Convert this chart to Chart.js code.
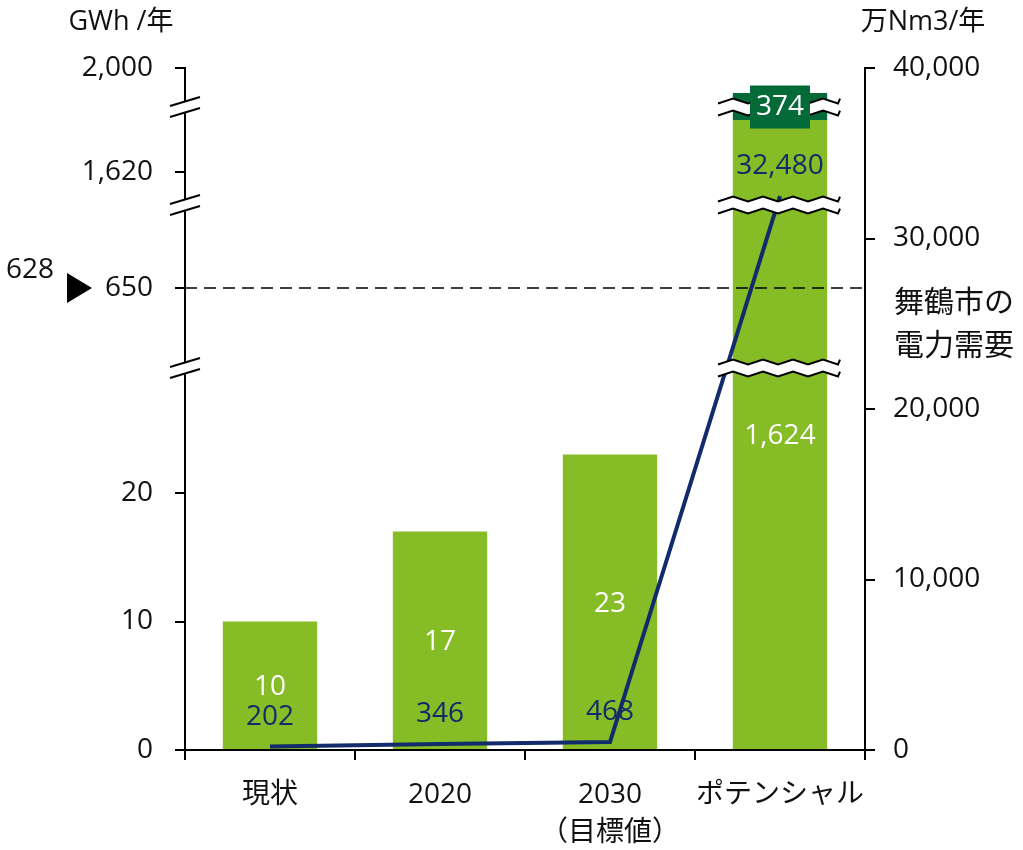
<!DOCTYPE html>
<html>
<head>
<meta charset="utf-8">
<title>発電量・ガス量ポテンシャル</title>
<script src="https://cdn.jsdelivr.net/npm/chart.js"></script>
<style>
    body { margin: 0; background: #fff; }
</style>
</head>
<body>
<canvas id="potentialChart" width="1023" height="850"></canvas>

<script>
    const categories = ['現状', '2020', ['2030', '（目標値）'], 'ポテンシャル'];
    const powerGWh = [10, 17, 23, 1624];
    const powerExtraGWh = [null, null, null, 374];
    const gasNm3 = [202, 346, 468, 32480];
    const leftTicks = [0, 10, 20, 650, 1620, 2000];
    const demandGWh = 628;
    const demandTick = 650;

    // left axis is broken into pieces, each value range gets its own share of the height
    const axisPieces = [
        { from: 0, to: 29.73, share: 0.5601 },
        { from: 570, to: 733, share: 0.7991 },
        { from: 1617.46, to: 1625, share: 0.9428 },
        { from: 1996.88, to: 2000, share: 1 }
    ];

    const navy = '#112b6b';
    const lightGreen = '#86bc25';
    const darkGreen = '#046a38';
    const fontFamily = "'Open Sans', 'Noto Sans CJK JP', sans-serif";

    const LinearScale = Chart.LinearScale || Chart.registry.getScale('linear');

    class BrokenScale extends LinearScale {
        buildTicks() {
            this.start = this.min;
            this.end = this.max;
            return leftTicks.map(value => ({ value }));
        }
        shareOf(value) {
            let lo = 0;
            for (const p of axisPieces) {
                if (value <= p.to) {
                    if (value < p.from) return lo;
                    return lo + (value - p.from) / (p.to - p.from) * (p.share - lo);
                }
                lo = p.share;
            }
            return 1;
        }
        getPixelForValue(value) {
            return this.bottom - this.shareOf(value) * (this.bottom - this.top);
        }
        getValueForPixel(pixel) {
            const s = (this.bottom - pixel) / (this.bottom - this.top);
            let lo = 0;
            for (const p of axisPieces) {
                if (s <= p.share) return p.from + (s - lo) / (p.share - lo) * (p.to - p.from);
                lo = p.share;
            }
            return this.max;
        }
    }
    BrokenScale.id = 'broken';
    BrokenScale.defaults = {};
    Chart.register(BrokenScale);

    Chart.defaults.font.family = fontFamily;
    Chart.defaults.font.size = 28;
    Chart.defaults.color = '#111';

    const fmt = v => Number(v).toLocaleString('en-US');

    function zigzag(x0, x1, y, amp, step) {
        const pts = [];
        let up = true;
        for (let x = x0; x < x1; x += step) {
            pts.push([x, y + (up ? amp : -amp)]);
            up = !up;
        }
        pts.push([x1, y + (up ? amp : -amp)]);
        return pts;
    }

    function drawBarBreak(ctx, x0, x1, y) {
        const top = zigzag(x0, x1, y - 6, 2.5, 15);
        const bottom = zigzag(x0, x1, y + 6, 2.5, 15);
        ctx.beginPath();
        top.forEach(([x, yy], i) => i ? ctx.lineTo(x, yy) : ctx.moveTo(x, yy));
        bottom.slice().reverse().forEach(([x, yy]) => ctx.lineTo(x, yy));
        ctx.closePath();
        ctx.fillStyle = '#fff';
        ctx.fill();
        ctx.strokeStyle = '#000';
        ctx.lineWidth = 2;
        [top, bottom].forEach(line => {
            ctx.beginPath();
            line.forEach(([x, yy], i) => i ? ctx.lineTo(x, yy) : ctx.moveTo(x, yy));
            ctx.stroke();
        });
    }

    function drawAxisBreak(ctx, x, y) {
        ctx.beginPath();
        ctx.moveTo(x - 15, y - 1);
        ctx.lineTo(x + 15, y - 10);
        ctx.lineTo(x + 15, y + 1);
        ctx.lineTo(x - 15, y + 10);
        ctx.closePath();
        ctx.fillStyle = '#fff';
        ctx.fill();
        ctx.strokeStyle = '#000';
        ctx.lineWidth = 2;
        ctx.beginPath();
        ctx.moveTo(x - 15, y - 1);
        ctx.lineTo(x + 15, y - 10);
        ctx.moveTo(x - 15, y + 10);
        ctx.lineTo(x + 15, y + 1);
        ctx.stroke();
    }

    const overlay = {
        id: 'overlay',
        beforeDatasetDraw(chart, args) {
            if (args.meta.type !== 'line') return;
            const { ctx, chartArea, scales } = chart;
            const dy = scales.y.getPixelForValue(demandTick);
            ctx.save();
            ctx.setLineDash([12, 7]);
            ctx.lineWidth = 1.6;
            ctx.strokeStyle = '#000';
            ctx.beginPath();
            ctx.moveTo(chartArea.left, dy);
            ctx.lineTo(chartArea.right, dy);
            ctx.stroke();
            ctx.restore();
        },
        afterDatasetsDraw(chart) {
            const { ctx, chartArea, scales } = chart;
            const base = chart.getDatasetMeta(0).data;
            const extra = chart.getDatasetMeta(1).data;
            const line = chart.getDatasetMeta(2).data;
            const tall = base[base.length - 1];

            ctx.save();
            // break marks on the bar and on the left axis
            axisPieces.slice(0, -1).forEach(p => {
                const yb = scales.y.getPixelForValue(p.to);
                drawBarBreak(ctx, tall.x - 62, tall.x + 60, yb);
                drawAxisBreak(ctx, chartArea.left, yb);
            });

            ctx.font = '28px ' + fontFamily;
            ctx.textAlign = 'center';
            ctx.textBaseline = 'middle';

            base.forEach((bar, i) => {
                ctx.fillStyle = '#fff';
                ctx.fillText(fmt(powerGWh[i]), bar.x, (bar.y + bar.base) / 2 + 2);
            });
            extra.forEach((bar, i) => {
                if (powerExtraGWh[i] == null) return;
                const cy = (bar.y + bar.base) / 2;
                ctx.fillStyle = darkGreen;
                ctx.fillRect(bar.x - 30, cy - 21, 60, 43);
                ctx.fillStyle = '#fff';
                ctx.fillText(fmt(powerExtraGWh[i]), bar.x, cy + 1);
            });
            line.forEach((pt, i) => {
                ctx.fillStyle = navy;
                ctx.fillText(fmt(gasNm3[i]), pt.x, pt.y - 30);
            });

            // axis units and demand notes
            ctx.fillStyle = '#111';
            ctx.font = '27px ' + fontFamily;
            ctx.fillText('GWh /年', 121, 22);
            ctx.fillText('万Nm3/年', 923, 22);
            const dy = scales.y.getPixelForValue(demandTick);
            ctx.font = '28px ' + fontFamily;
            ctx.fillText(fmt(demandGWh), 30, dy - 18);
            ctx.fillStyle = '#000';
            ctx.beginPath();
            ctx.moveTo(67, dy - 15);
            ctx.lineTo(92, dy);
            ctx.lineTo(67, dy + 15);
            ctx.closePath();
            ctx.fill();
            ctx.font = '30px ' + fontFamily;
            ctx.fillStyle = '#111';
            ctx.textAlign = 'left';
            ctx.fillText('舞鶴市の', 894, dy + 15);
            ctx.fillText('電力需要', 894, dy + 58);
            ctx.restore();
        }
    };

    const axisGrid = { drawOnChartArea: false, color: '#000', lineWidth: 2, tickLength: 10 };
    const axisBorder = { color: '#000', width: 2 };

    new Chart(document.getElementById('potentialChart'), {
        type: 'bar',
        data: {
            labels: categories,
            datasets: [
                { label: '発電量', data: powerGWh, backgroundColor: lightGreen, yAxisID: 'y', order: 1 },
                { label: '発電量（追加）', data: powerExtraGWh, backgroundColor: darkGreen, yAxisID: 'y', order: 1 },
                {
                    type: 'line', label: 'ガス量', data: gasNm3, yAxisID: 'y2', order: 0,
                    borderColor: navy, borderWidth: 4, pointRadius: 0, tension: 0
                }
            ]
        },
        options: {
            responsive: false,
            animation: false,
            layout: { padding: { top: 68 } },
            datasets: { bar: { barPercentage: 0.555, categoryPercentage: 1 } },
            plugins: { legend: { display: false }, tooltip: { enabled: false } },
            scales: {
                x: {
                    stacked: true,
                    grid: { ...axisGrid, offset: true },
                    border: axisBorder,
                    ticks: { padding: 16, maxRotation: 0, autoSkip: false, font: { lineHeight: 1.35 } },
                    afterFit: s => { s.height = 100; }
                },
                y: {
                    type: 'broken',
                    position: 'left',
                    stacked: true,
                    min: 0,
                    max: 2000,
                    grid: axisGrid,
                    border: axisBorder,
                    ticks: { autoSkip: false, padding: 22, callback: v => fmt(v) },
                    afterFit: s => { s.width = 185; }
                },
                y2: {
                    type: 'linear',
                    position: 'right',
                    min: 0,
                    max: 40000,
                    grid: axisGrid,
                    border: axisBorder,
                    ticks: { stepSize: 10000, padding: 18, callback: v => fmt(v) },
                    afterFit: s => { s.width = 158; }
                }
            }
        },
        plugins: [overlay]
    });
</script>
</body>
</html>
